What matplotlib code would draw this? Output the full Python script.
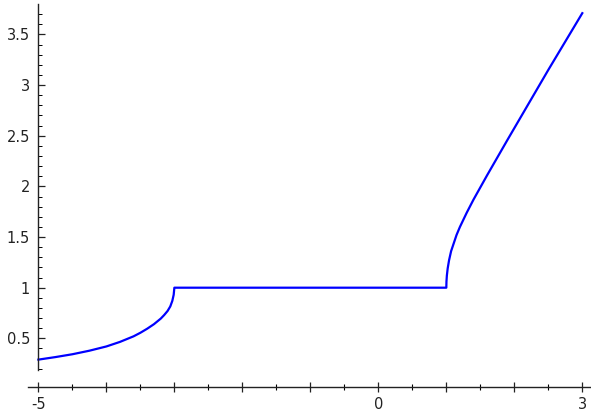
import matplotlib
matplotlib.use("Agg")
import matplotlib.pyplot as plt
import numpy as np

# curve values (left piece, flat piece, right piece)
left_x = [-5.0, -4.75, -4.5, -4.25, -4.0, -3.8, -3.6, -3.5, -3.4, -3.3, -3.2, -3.15, -3.1,
          -3.06, -3.03, -3.01, -3.0]
left_y = [0.29, 0.315, 0.343, 0.378, 0.42, 0.465, 0.52, 0.555, 0.595, 0.64, 0.695, 0.73, 0.77,
          0.815, 0.87, 0.93, 1.0]
flat_x = [-3.0, 1.0]
flat_y = [1.0, 1.0]
right_x = [1.0, 1.002, 1.008, 1.02, 1.04, 1.07, 1.1, 1.15, 1.2, 1.3, 1.4, 1.5, 1.6, 1.75,
           1.9, 2.1, 2.3, 2.5, 2.75, 3.0]
right_y = [1.0, 1.06, 1.12, 1.19, 1.27, 1.36, 1.42, 1.52, 1.60, 1.74, 1.87, 1.99, 2.11, 2.285,
           2.46, 2.69, 2.92, 3.15, 3.43, 3.71]

xticks_major = [-5, -4, -3, -2, -1, 0, 1, 2, 3]
xtick_labels = ["-5", "", "", "", "", "0", "", "", "3"]
yticks_major = [0.5, 1.0, 1.5, 2.0, 2.5, 3.0, 3.5]
ytick_labels = ["0.5", "1", "1.5", "2", "2.5", "3", "3.5"]

fig = plt.figure(figsize=(5.91, 4.12), dpi=100)
# axes placed so that x=-5 sits at px 38.5 and x=3 at px 582.5
ax = fig.add_axes([27.5 / 591, 23 / 412, 565 / 591, 389 / 412])
ax.set_xlim(-5.16, 3.15)
ax.set_ylim(0.0, 3.84)

x_all = left_x + flat_x[1:] + right_x[1:]
y_all = left_y + flat_y[1:] + right_y[1:]
ax.plot(x_all, y_all, color="#0000ff", lw=1.6, solid_joinstyle="round")

ax.spines["top"].set_visible(False)
ax.spines["right"].set_visible(False)
ax.spines["left"].set_position(("data", -5))
ax.spines["left"].set_bounds(0.19, 3.8)
ax.spines["bottom"].set_position(("data", 0.02))
ax.spines["bottom"].set_bounds(-5.16, 3.15)
for s in ("left", "bottom"):
    ax.spines[s].set_linewidth(1.0)
    ax.spines[s].set_color("#222222")

ax.set_xticks(xticks_major)
ax.set_xticklabels(xtick_labels)
ax.set_xticks(np.arange(-4.5, 3.0, 1.0), minor=True)
ax.set_yticks(yticks_major)
ax.set_yticklabels(ytick_labels)
ax.set_yticks([v / 10 for v in range(2, 38) if v % 5 != 0], minor=True)

ax.tick_params(axis="x", which="major", direction="inout", length=7, width=0.9, pad=4,
               labelsize=10.5, colors="#222222")
ax.tick_params(axis="x", which="minor", direction="inout", length=4, width=0.8)
ax.tick_params(axis="y", which="major", direction="in", length=5, width=0.9, pad=6,
               labelsize=10.5, colors="#222222")
ax.tick_params(axis="y", which="minor", direction="in", length=3, width=0.7)

fig.savefig("out.png", dpi=100)
